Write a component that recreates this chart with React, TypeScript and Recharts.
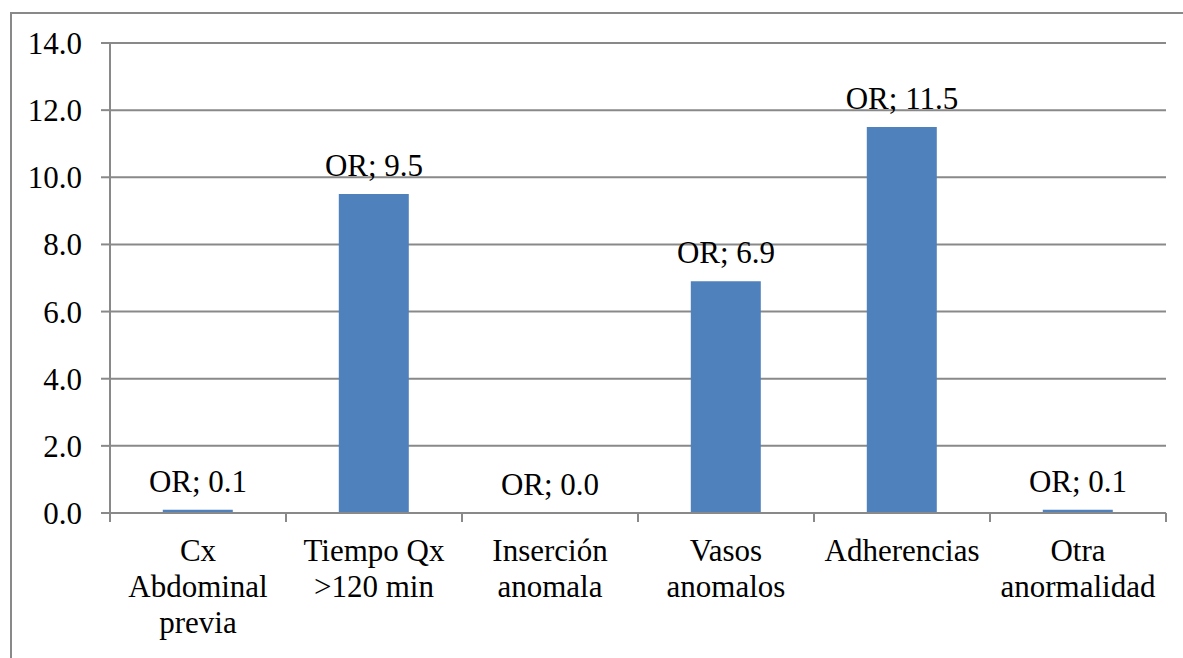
import React from 'react';
import { ComposedChart, Bar, Line, XAxis, YAxis, CartesianGrid } from 'recharts';

const categories = [
  'Cx Abdominal previa',
  'Tiempo Qx >120 min',
  'Inserción anomala',
  'Vasos anomalos',
  'Adherencias',
  'Otra anormalidad',
];
const categoryLines = [
  ['Cx', 'Abdominal', 'previa'],
  ['Tiempo Qx', '>120 min'],
  ['Inserción', 'anomala'],
  ['Vasos', 'anomalos'],
  ['Adherencias'],
  ['Otra', 'anormalidad'],
];
const orValues = [0.1, 9.5, 0.0, 6.9, 11.5, 0.1];
const yTicks = [0, 2, 4, 6, 8, 10, 12, 14];
const labelPrefix = 'OR; ';

const data = categories.map((c, i) => ({ name: c, or: orValues[i] }));

const FONT = '"Liberation Serif", "Times New Roman", "DejaVu Serif", serif';
const FS = 31;
const GRID = '#898989';
const textStyle: React.CSSProperties = { fontFamily: FONT, fontSize: FS };

const XTick = (props: any) => {
  const { x, y, payload } = props;
  const idx = categories.indexOf(payload.value);
  const lines = categoryLines[idx] || [String(payload.value)];
  const half = payload.offset ?? 0;
  const isLast = idx === categories.length - 1;
  return (
    <g>
      <line x1={x - half} x2={x - half} y1={y} y2={y + 9} stroke={GRID} strokeWidth={2} />
      {isLast && <line x1={x + half} x2={x + half} y1={y} y2={y + 9} stroke={GRID} strokeWidth={2} />}
      <text x={x} y={y} textAnchor="middle" style={textStyle} fill="#000">
        {lines.map((l, i) => (
          <tspan key={i} x={x} y={y + 48 + i * 36}>{l}</tspan>
        ))}
      </text>
    </g>
  );
};

const YTick = (props: any) => {
  const { x, y, payload } = props;
  return (
    <text x={x} y={y} dy={11} textAnchor="end" style={textStyle} fill="#000">
      {Number(payload.value).toFixed(1)}
    </text>
  );
};

const PointLabel = (props: any) => {
  const { x, y, value } = props;
  return (
    <text x={x} y={y - 18} textAnchor="middle" style={textStyle} fill="#000">
      {labelPrefix + Number(value).toFixed(1)}
    </text>
  );
};

export default function App() {
  return (
    <div style={{ position: 'absolute', left: 0, top: 0, width: 1183, height: 658, background: '#fff', overflow: 'hidden' }}>
      <div
        style={{
          position: 'absolute',
          left: 10,
          top: 12,
          width: 1200,
          height: 700,
          borderLeft: `2px solid ${GRID}`,
          borderTop: `2px solid ${GRID}`,
          boxSizing: 'border-box',
        }}
      />
      <div style={{ position: 'absolute', left: 0, top: 0 }}>
        <ComposedChart
          width={1183}
          height={658}
          data={data}
          margin={{ top: 43, right: 17, bottom: 0, left: 10 }}
          barCategoryGap="30%"
        >
          <CartesianGrid vertical={false} stroke={GRID} strokeWidth={2} />
          <XAxis
            dataKey="name"
            height={145}
            interval={0}
            tickLine={false}
            tickSize={0}
            tickMargin={0}
            axisLine={{ stroke: GRID, strokeWidth: 2 }}
            tick={<XTick />}
          />
          <YAxis
            width={100}
            domain={[0, 14]}
            ticks={yTicks}
            interval={0}
            tickSize={9}
            tickMargin={19}
            axisLine={{ stroke: GRID, strokeWidth: 2 }}
            tickLine={{ stroke: GRID, strokeWidth: 2 }}
            tick={<YTick />}
          />
          <Bar dataKey="or" fill="#4F81BD" isAnimationActive={false} />
          <Line
            dataKey="or"
            stroke="none"
            dot={false}
            activeDot={false}
            legendType="none"
            label={<PointLabel />}
            isAnimationActive={false}
          />
        </ComposedChart>
      </div>
    </div>
  );
}
